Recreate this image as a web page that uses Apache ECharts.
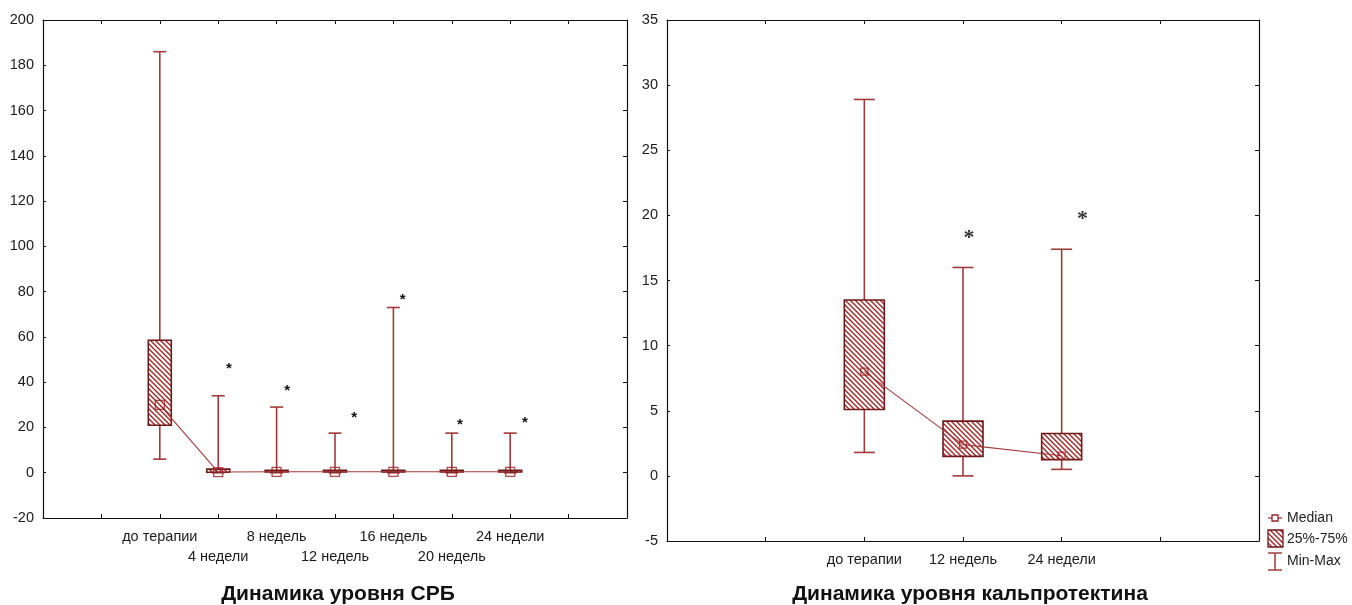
<!DOCTYPE html>
<html>
<head>
<meta charset="utf-8">
<script src="https://cdn.jsdelivr.net/npm/echarts@6/dist/echarts.min.js"></script>
<style>
  html, body { margin: 0; padding: 0; background: #fff; }
  #main { width: 1352px; height: 605px; }
</style>
</head>
<body>
<div id="main"></div>
<script>
// --- данные: СРБ ---
var crpCats = ['до терапии', '4 недели', '8 недель', '12 недель', '16 недель', '20 недель', '24 недели'];
var crpPos = [2, 3, 4, 5, 6, 7, 8];
var crpMin = [6, 0, 0, 0, 0, 0, 0];
var crpQ1 = [21, 0.2, 0.3, 0.3, 0.3, 0.3, 0.3];
var crpMed = [30, 0.3, 0.4, 0.4, 0.4, 0.4, 0.4];
var crpQ3 = [58.5, 1.6, 1.1, 1.1, 1.1, 1.1, 1.1];
var crpMax = [186, 34, 29, 17.5, 73, 17.5, 17.5];
var crpStarX = [3.185, 4.18, 5.33, 6.16, 7.14, 8.25];
var crpStarY = [47.5, 37.7, 25.9, 78, 22.5, 23.7];

// --- данные: кальпротектин ---
var calCats = ['до терапии', '12 недель', '24 недели'];
var calPos = [2, 3, 4];
var calMin = [1.8, 0, 0.5];
var calQ1 = [5.1, 1.5, 1.25];
var calMed = [8, 2.4, 1.55];
var calQ3 = [13.5, 4.2, 3.25];
var calMax = [28.9, 16, 17.4];
var calStarX = [3.06, 4.21];
var calStarY = [18.6, 20.1];

var FONT = 'Liberation Sans, Arial, sans-serif';
var RED = '#a33a3a';
var DARK = '#6e1a1a';

// штриховка
var hatch = document.createElement('canvas');
hatch.width = 5; hatch.height = 5;
(function(){
	var c = hatch.getContext('2d');
	c.fillStyle = '#fff';
	c.fillRect(0, 0, 5, 5);
	c.strokeStyle = '#a02828';
	c.lineWidth = 1.4;
	c.beginPath();
	c.moveTo(-1, -1); c.lineTo(6, 6);
	c.moveTo(-1, 4); c.lineTo(1, 6);
	c.moveTo(4, -1); c.lineTo(6, 1);
	c.stroke();
})();
var hatchFill = { image: hatch, repeat: 'repeat' };

function boxData(pos, q1, q3, mn, mx){
	var out = [];
	for (var i = 0; i < pos.length; i++) out.push([pos[i], q1[i], q3[i], mn[i], mx[i]]);
	return out;
}
function pairs(xs, ys){
	var out = [];
	for (var i = 0; i < xs.length; i++) out.push([xs[i], ys[i]]);
	return out;
}

function boxRenderer(boxW, capW){
	return function(params, api){
		var x = api.value(0);
		var pQ1 = api.coord([x, api.value(1)]);
		var pQ3 = api.coord([x, api.value(2)]);
		var pLo = api.coord([x, api.value(3)]);
		var pHi = api.coord([x, api.value(4)]);
		var ls = { stroke: RED, lineWidth: 1.6 };
		return {
			type: 'group',
			children: [
				{ type: 'line', shape: { x1: pHi[0], y1: pHi[1], x2: pQ3[0], y2: pQ3[1] }, style: ls },
				{ type: 'line', shape: { x1: pQ1[0], y1: pQ1[1], x2: pLo[0], y2: pLo[1] }, style: ls },
				{ type: 'line', shape: { x1: pHi[0] - capW / 2, y1: pHi[1], x2: pHi[0] + capW / 2, y2: pHi[1] }, style: ls },
				{ type: 'line', shape: { x1: pLo[0] - capW / 2, y1: pLo[1], x2: pLo[0] + capW / 2, y2: pLo[1] }, style: ls },
				{ type: 'rect', shape: { x: pQ3[0] - boxW / 2, y: pQ3[1], width: boxW, height: Math.max(pQ1[1] - pQ3[1], 1) },
				  style: { fill: hatchFill, stroke: DARK, lineWidth: 1.6 } }
			]
		};
	};
}

function starRenderer(size, family, color){
	return function(params, api){
		var p = api.coord([api.value(0), api.value(1)]);
		return {
			type: 'text', x: p[0], y: p[1] + size * 0.23,
			style: { text: '*', fontSize: size, fontWeight: 'bold', fontFamily: family,
				fill: color, align: 'center', verticalAlign: 'middle' }
		};
	};
}

var lineBlack = { show: true, onZero: false, lineStyle: { color: '#111', width: 1.2 } };

function xAxisMain(grid, max, cats, margin, stagger){
	return {
		type: 'value', gridIndex: grid, position: 'bottom', min: 0, max: max, interval: 1,
		axisLine: lineBlack, splitLine: { show: false },
		axisTick: { show: true, inside: true, length: 4, lineStyle: { color: '#111' } },
		axisLabel: {
			color: '#1a1a1a', fontSize: 14.5, fontFamily: FONT, margin: margin, lineHeight: 20,
			showMinLabel: true, showMaxLabel: true,
			formatter: function(v){
				var i = Math.round(v) - 2;
				if (i < 0 || i >= cats.length) return '';
				return (stagger && i % 2) ? '\n' + cats[i] : cats[i];
			}
		}
	};
}
function xAxisTop(grid, max){
	return {
		type: 'value', gridIndex: grid, position: 'top', min: 0, max: max, interval: 1,
		axisLine: lineBlack, splitLine: { show: false }, axisLabel: { show: false },
		axisTick: { show: true, inside: true, length: 4, lineStyle: { color: '#111' } }
	};
}
function yAxisMain(grid, min, max, step){
	return {
		type: 'value', gridIndex: grid, position: 'left', min: min, max: max, interval: step,
		axisLine: lineBlack, splitLine: { show: false },
		axisTick: { show: true, inside: true, length: 3, lineStyle: { color: '#111' } },
		axisLabel: { color: '#1a1a1a', fontSize: 14.5, fontFamily: FONT, margin: 9 }
	};
}
function yAxisRight(grid, min, max, step){
	return {
		type: 'value', gridIndex: grid, position: 'right', min: min, max: max, interval: step,
		axisLine: lineBlack, splitLine: { show: false }, axisLabel: { show: false },
		axisTick: { show: true, inside: true, length: 4, lineStyle: { color: '#111' } }
	};
}

var myChart = echarts.init(document.getElementById('main'));

var option = {
	backgroundColor: '#fff',
	animation: false,
	grid: [
		{ left: 43, top: 20, width: 584, height: 498 },
		{ left: 667, top: 20, width: 592, height: 521 }
	],
	xAxis: [
		xAxisMain(0, 10, crpCats, 9, true),
		xAxisTop(0, 10),
		xAxisMain(1, 6, calCats, 9, false),
		xAxisTop(1, 6)
	],
	yAxis: [
		yAxisMain(0, -20, 200, 20),
		yAxisRight(0, -20, 200, 20),
		yAxisMain(1, -5, 35, 5),
		yAxisRight(1, -5, 35, 5)
	],
	series: [
		{
			type: 'custom', xAxisIndex: 0, yAxisIndex: 0, z: 2,
			renderItem: boxRenderer(23, 13),
			data: boxData(crpPos, crpQ1, crpQ3, crpMin, crpMax)
		},
		{
			type: 'line', xAxisIndex: 0, yAxisIndex: 0, z: 3, symbol: 'none',
			lineStyle: { color: RED, width: 1.1 },
			data: pairs(crpPos, crpMed)
		},
		{
			type: 'scatter', xAxisIndex: 0, yAxisIndex: 0, z: 4, symbol: 'rect', symbolSize: 9,
			itemStyle: { color: 'rgba(0,0,0,0)', borderColor: '#9b2020', borderWidth: 1.3 },
			data: pairs(crpPos, crpMed)
		},
		{
			type: 'custom', xAxisIndex: 0, yAxisIndex: 0, z: 5,
			renderItem: starRenderer(15, FONT, '#111'),
			data: pairs(crpStarX, crpStarY)
		},
		{
			type: 'custom', xAxisIndex: 2, yAxisIndex: 2, z: 2,
			renderItem: boxRenderer(40, 21),
			data: boxData(calPos, calQ1, calQ3, calMin, calMax)
		},
		{
			type: 'line', xAxisIndex: 2, yAxisIndex: 2, z: 3, symbol: 'none',
			lineStyle: { color: RED, width: 1.1 },
			data: pairs(calPos, calMed)
		},
		{
			type: 'scatter', xAxisIndex: 2, yAxisIndex: 2, z: 4, symbol: 'rect', symbolSize: 7,
			itemStyle: { color: 'rgba(0,0,0,0)', borderColor: '#9b2020', borderWidth: 1.3 },
			data: pairs(calPos, calMed)
		},
		{
			type: 'custom', xAxisIndex: 2, yAxisIndex: 2, z: 5,
			renderItem: starRenderer(22, 'Liberation Serif, serif', '#333'),
			data: pairs(calStarX, calStarY)
		}
	],
	graphic: [
		{ type: 'text', x: 338, y: 594, style: { text: 'Динамика уровня СРБ', fontSize: 21, fontWeight: 'bold',
			fontFamily: FONT, fill: '#111', align: 'center', verticalAlign: 'middle' } },
		{ type: 'text', x: 970, y: 594, style: { text: 'Динамика уровня кальпротектина', fontSize: 21, fontWeight: 'bold',
			fontFamily: FONT, fill: '#111', align: 'center', verticalAlign: 'middle' } },
		// легенда
		{ type: 'line', shape: { x1: 1268, y1: 518, x2: 1282, y2: 518 }, style: { stroke: RED, lineWidth: 1.3 } },
		{ type: 'rect', shape: { x: 1272, y: 515, width: 6, height: 6 }, style: { fill: '#fff', stroke: '#9b2020', lineWidth: 1.3 } },
		{ type: 'text', x: 1287, y: 518, style: { text: 'Median', fontSize: 14, fontFamily: FONT, fill: '#222', verticalAlign: 'middle' } },
		{ type: 'rect', shape: { x: 1268, y: 530, width: 15, height: 17 }, style: { fill: hatchFill, stroke: DARK, lineWidth: 1.3 } },
		{ type: 'text', x: 1287, y: 539, style: { text: '25%-75%', fontSize: 14, fontFamily: FONT, fill: '#222', verticalAlign: 'middle' } },
		{ type: 'line', shape: { x1: 1268, y1: 553, x2: 1282, y2: 553 }, style: { stroke: RED, lineWidth: 1.5 } },
		{ type: 'line', shape: { x1: 1275, y1: 553, x2: 1275, y2: 570 }, style: { stroke: RED, lineWidth: 1.5 } },
		{ type: 'line', shape: { x1: 1268, y1: 570, x2: 1282, y2: 570 }, style: { stroke: RED, lineWidth: 1.5 } },
		{ type: 'text', x: 1287, y: 561, style: { text: 'Min-Max', fontSize: 14, fontFamily: FONT, fill: '#222', verticalAlign: 'middle' } }
	]
};

myChart.setOption(option);
</script>
</body>
</html>
